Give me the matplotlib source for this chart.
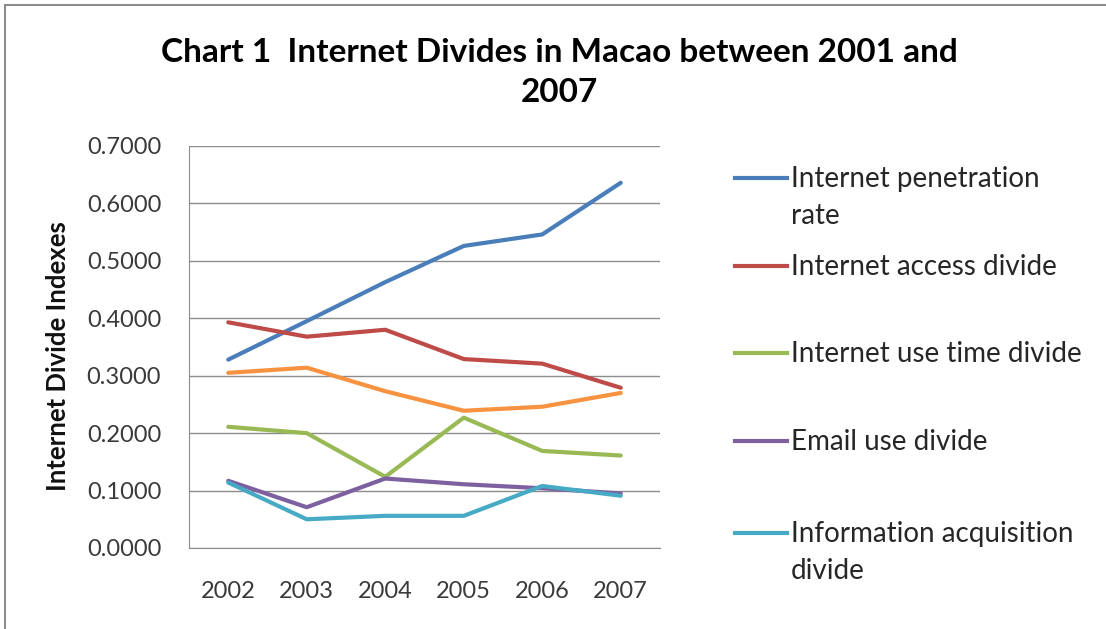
import matplotlib
matplotlib.use("Agg")
import matplotlib.pyplot as plt
from matplotlib.lines import Line2D
from matplotlib.patches import Rectangle
from matplotlib.ticker import FormatStrFormatter

plt.rcParams['font.family'] = ['Lato', 'DejaVu Sans']

# data
years = ['2002', '2003', '2004', '2005', '2006', '2007']
penetration = [0.328, 0.395, 0.463, 0.526, 0.546, 0.636]
access = [0.393, 0.368, 0.380, 0.329, 0.321, 0.279]
unlabeled = [0.305, 0.314, 0.273, 0.239, 0.246, 0.270]
use_time = [0.211, 0.200, 0.124, 0.227, 0.169, 0.161]
email = [0.117, 0.071, 0.121, 0.111, 0.104, 0.095]
info_acq = [0.114, 0.050, 0.056, 0.056, 0.108, 0.091]

legend_names = ['Internet penetration\nrate', 'Internet access divide',
                'Internet use time divide', 'Email use divide',
                'Information acquisition\ndivide']
colors = ['#4A7EBB', '#BE4B48', '#98B954', '#7D60A0', '#46AAC5']
orange = '#F69240'

W, H = 1106, 629
fig = plt.figure(figsize=(W / 100, H / 100), dpi=100)
ax = fig.add_axes([189 / W, 1 - 548 / H, 471 / W, 402 / H])

x = range(len(years))
series = [penetration, access, use_time, email, info_acq]
# orange line has no legend entry in the original
ax.plot(x, unlabeled, color=orange, lw=3, solid_capstyle='round', zorder=3)
for vals, c in zip(series, colors):
    ax.plot(x, vals, color=c, lw=3, solid_capstyle='round', zorder=3)

ax.set_xlim(-0.5, 5.5)
ax.set_ylim(0, 0.7)
ax.set_yticks([0.0, 0.1, 0.2, 0.3, 0.4, 0.5, 0.6, 0.7])
ax.yaxis.set_major_formatter(FormatStrFormatter('%.4f'))
ax.set_xticks(list(x))
ax.set_xticklabels(years)
ax.tick_params(axis='both', length=0, labelsize=17, colors='#3a3a3a')
ax.tick_params(axis='x', pad=24)
ax.tick_params(axis='y', pad=20)
ax.yaxis.grid(True, color='#8c8c8c', lw=1)
ax.set_axisbelow(True)
for s in ['top', 'right']:
    ax.spines[s].set_visible(False)
for s in ['left', 'bottom']:
    ax.spines[s].set_color('#8c8c8c')

fig.text(58 / W, 1 - 356 / H, 'Internet Divide Indexes', rotation=90,
         ha='center', va='center', fontsize=18.5, fontweight='bold', color='#111111')

fig.text(0.506, 1 - 52 / H, 'Chart 1  Internet Divides in Macao between 2001 and',
         ha='center', va='center', fontsize=24, fontweight='bold')
fig.text(0.506, 1 - 93 / H, '2007', ha='center', va='center', fontsize=24, fontweight='bold')

# legend drawn by hand to keep Excel-like even spacing
leg_y = [178, 266, 353, 441, 533]
for name, c, yp in zip(legend_names, colors, leg_y):
    fy = 1 - yp / H
    fig.add_artist(Line2D([735 / W, 787 / W], [fy, fy], color=c, lw=3,
                          transform=fig.transFigure))
    for i, part in enumerate(name.split('\n')):
        fig.text(791 / W, 1 - (yp + 9 + 37 * i) / H, part, ha='left', va='baseline',
                 fontsize=20, color='#262626')

# chart border
fig.add_artist(Rectangle((5 / W, -0.05), 1.2, 1 - 5 / H + 0.05, fill=False,
                         edgecolor='#8c8c8c', lw=1.5, transform=fig.transFigure))

fig.savefig('out.png', dpi=100)
